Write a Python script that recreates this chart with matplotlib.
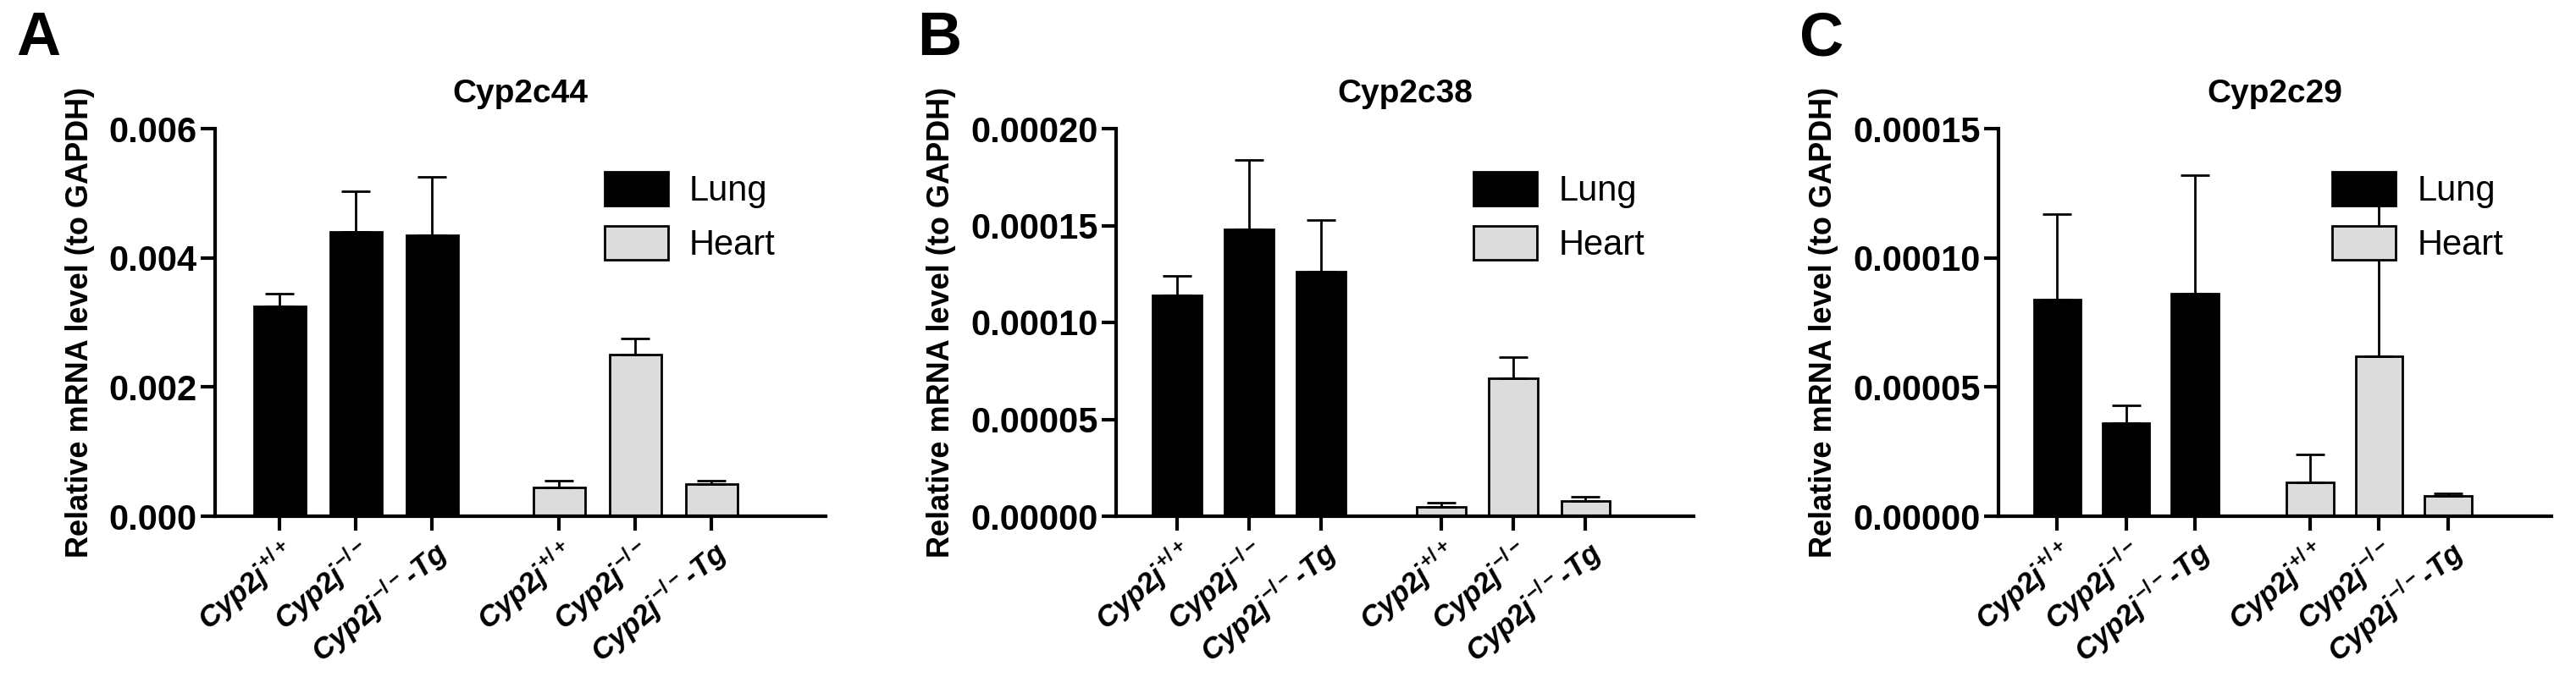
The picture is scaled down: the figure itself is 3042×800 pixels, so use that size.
import matplotlib
matplotlib.use("Agg")
import matplotlib.pyplot as plt
import numpy as np

plt.rcParams['font.family'] = ['Liberation Sans', 'DejaVu Sans']
plt.rcParams['mathtext.fontset'] = 'custom'
plt.rcParams['mathtext.it'] = 'Liberation Sans:italic:bold'
plt.rcParams['mathtext.rm'] = 'Liberation Sans:bold'
plt.rcParams['mathtext.bf'] = 'Liberation Sans:bold'

genotypes = [r"$Cyp2j^{+/+}$", r"$Cyp2j^{-/-}$", r"$Cyp2j^{-/-}$-$Tg$"]
titles = ["Cyp2c44", "Cyp2c38", "Cyp2c29"]
panel_letters = ["A", "B", "C"]
lung_vals = [[0.00325, 0.0044, 0.00435], [0.000114, 0.000148, 0.000126], [0.000084, 0.000036, 0.000086]]
lung_err = [[0.0002, 0.00063, 0.0009], [0.00001, 0.000036, 0.000027], [0.000033, 0.000007, 0.000046]]
heart_vals = [[0.00045, 0.0025, 0.0005], [0.000005, 0.000071, 0.000008], [0.000013, 0.000062, 0.000008]]
heart_err = [[0.0001, 0.00025, 0.00005], [0.000002, 0.000011, 0.000002], [0.000011, 0.000067, 0.000001]]
yticks = [[0, 0.002, 0.004, 0.006], [0, 0.00005, 0.0001, 0.00015, 0.0002], [0, 0.00005, 0.0001, 0.00015]]
yticklabels = [["0.000", "0.002", "0.004", "0.006"],
               ["0.00000", "0.00005", "0.00010", "0.00015", "0.00020"],
               ["0.00000", "0.00005", "0.00010", "0.00015"]]

fig = plt.figure(figsize=(30.42, 8), dpi=100)
lefts = [254, 1318, 2360]
rights = [975, 2000, 3013]
bottom, top = 610, 152
W, H = 3042, 800
lung_x = np.array([0, 1, 2])
heart_x = np.array([3.67, 4.67, 5.67])
for i in range(3):
    ax = fig.add_axes([lefts[i]/W, 1-bottom/H, (rights[i]-lefts[i])/W, (bottom-top)/H])
    ax.bar(lung_x, lung_vals[i], width=0.68, color='black', edgecolor='black', linewidth=2, label='Lung')
    ax.errorbar(lung_x, lung_vals[i], yerr=[np.zeros(3), lung_err[i]], fmt='none', ecolor='black', elinewidth=2, capsize=12, capthick=2)
    ax.bar(heart_x, heart_vals[i], width=0.68, color='#dcdcdc', edgecolor='black', linewidth=2, label='Heart')
    ax.errorbar(heart_x, heart_vals[i], yerr=[np.zeros(3), heart_err[i]], fmt='none', ecolor='black', elinewidth=2, capsize=12, capthick=2)
    ax.set_xlim(-0.85, 7.17)
    ax.set_ylim(0, yticks[i][-1])
    ax.set_yticks(yticks[i])
    ax.set_yticklabels(yticklabels[i], fontsize=30, fontweight='bold', family=['Liberation Sans Narrow', 'Liberation Sans'])
    ax.set_xticks(list(lung_x) + list(heart_x))
    ax.set_xticklabels(genotypes * 2, rotation=40, ha='right', rotation_mode='anchor', fontsize=25, fontstyle='italic', fontweight='bold')
    for s in ['top', 'right']:
        ax.spines[s].set_visible(False)
    for s in ['left', 'bottom']:
        ax.spines[s].set_linewidth(3)
    ax.tick_params(width=3, length=12)
    ax.set_ylabel("Relative mRNA level (to GAPDH)", fontsize=26, fontweight='bold', labelpad=12)
    ax.set_title(titles[i], fontsize=28, fontweight='bold', pad=22, family=['Liberation Sans Narrow', 'Liberation Sans'])
    leg = ax.legend(loc='upper right', bbox_to_anchor=(0.97, 0.97), frameon=False, fontsize=30,
                    handlelength=1.8, handleheight=1.1, handletextpad=0.6, labelspacing=0.5)
    fig.text((lefts[i]-235)/W, 0.985, panel_letters[i], fontsize=52, fontweight='bold', va='top', ha='left')

fig.savefig("out.png", dpi=100)
